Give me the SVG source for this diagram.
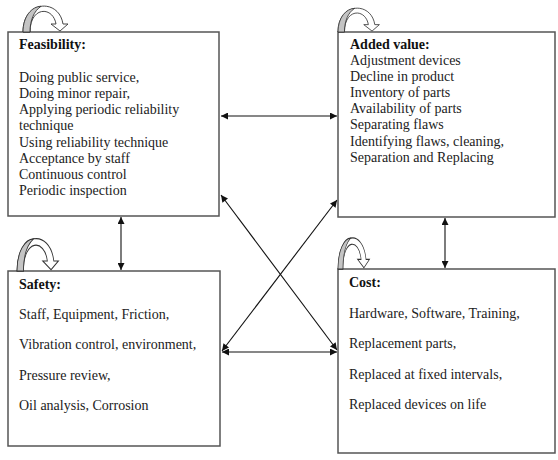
<svg xmlns="http://www.w3.org/2000/svg" width="558" height="460" viewBox="0 0 558 460">
<style>
.box{fill:#fff;stroke:#555;stroke-width:1.5}
.c{stroke:#111;stroke-width:1.1;fill:none;marker-start:url(#ah);marker-end:url(#ah)}
.curl{fill:#fff;stroke:#333;stroke-width:0.9}
.curlg{fill:#c4c4c4;stroke:#333;stroke-width:0.9}
</style>
<defs>
<marker id="ah" viewBox="0 0 10 10" refX="10" refY="5" markerWidth="9" markerHeight="7" markerUnits="userSpaceOnUse" orient="auto-start-reverse">
<path d="M0,0 L10,5 L0,10 Z" fill="#111"/>
</marker>
<g id="curlShape">
<path class="curl" d="M0,0 C0,-32 36,-34 40,-8 L45,-8 L37,-1 L28,-8 L33,-8 C30,-26 7,-26 7,0 Z"/>
<path class="curlg" d="M0,0 C0,-16 9,-25.5 18,-25.7 C11,-21 7,-12 7,0 Z"/>
</g>
</defs>
<g id="connectors">
<line class="c" x1="221" y1="116" x2="337" y2="116"/>
<line class="c" x1="121" y1="217" x2="121" y2="270"/>
<line class="c" x1="445" y1="218" x2="445" y2="268"/>
<line class="c" x1="222" y1="352" x2="337" y2="352"/>
<line class="c" x1="221" y1="195" x2="337" y2="350"/>
<line class="c" x1="337" y1="200" x2="222" y2="351"/>
</g>
<g id="feasibility">
<rect class="box" x="8" y="32" width="211" height="184"/>
<use href="#curlShape" transform="translate(23,32)"/>
<text font-family="Liberation Serif" font-size="14" font-weight="bold" fill="#111" x="19" y="49">Feasibility:</text>
<text font-family="Liberation Serif" font-size="14" fill="#222" x="19" y="82">Doing public service,</text>
<text font-family="Liberation Serif" font-size="14" fill="#222" x="19" y="98">Doing minor repair,</text>
<text font-family="Liberation Serif" font-size="14" fill="#222" x="19" y="114">Applying periodic reliability</text>
<text font-family="Liberation Serif" font-size="14" fill="#222" x="19" y="130">technique</text>
<text font-family="Liberation Serif" font-size="14" fill="#222" x="19" y="147">Using reliability technique</text>
<text font-family="Liberation Serif" font-size="14" fill="#222" x="19" y="163">Acceptance by staff</text>
<text font-family="Liberation Serif" font-size="14" fill="#222" x="19" y="179">Continuous control</text>
<text font-family="Liberation Serif" font-size="14" fill="#222" x="19" y="195">Periodic inspection</text>
</g>
<g id="added-value">
<rect class="box" x="338" y="32" width="217" height="185"/>
<use href="#curlShape" transform="translate(338,32) scale(0.92)"/>
<text font-family="Liberation Serif" font-size="14" font-weight="bold" fill="#111" x="350" y="49">Added value:</text>
<text font-family="Liberation Serif" font-size="14" fill="#222" x="350" y="65">Adjustment devices</text>
<text font-family="Liberation Serif" font-size="14" fill="#222" x="350" y="81">Decline in product</text>
<text font-family="Liberation Serif" font-size="14" fill="#222" x="350" y="97">Inventory of parts</text>
<text font-family="Liberation Serif" font-size="14" fill="#222" x="350" y="113">Availability of parts</text>
<text font-family="Liberation Serif" font-size="14" fill="#222" x="350" y="129">Separating flaws</text>
<text font-family="Liberation Serif" font-size="14" fill="#222" x="350" y="146">Identifying flaws, cleaning,</text>
<text font-family="Liberation Serif" font-size="14" fill="#222" x="350" y="162">Separation and Replacing</text>
</g>
<g id="safety">
<rect class="box" x="8" y="271" width="212" height="175"/>
<use href="#curlShape" transform="translate(17,271) scale(0.92,1.25)"/>
<text font-family="Liberation Serif" font-size="14" font-weight="bold" fill="#111" x="19" y="289">Safety:</text>
<text font-family="Liberation Serif" font-size="14" fill="#222" x="19" y="319">Staff, Equipment, Friction,</text>
<text font-family="Liberation Serif" font-size="14" fill="#222" x="19" y="349">Vibration control, environment,</text>
<text font-family="Liberation Serif" font-size="14" fill="#222" x="19" y="380">Pressure review,</text>
<text font-family="Liberation Serif" font-size="14" fill="#222" x="19" y="410">Oil analysis, Corrosion</text>
</g>
<g id="cost">
<rect class="box" x="338" y="269" width="217" height="184"/>
<use href="#curlShape" transform="translate(338,269) scale(0.7,1.2)"/>
<text font-family="Liberation Serif" font-size="14" font-weight="bold" fill="#111" x="349" y="287">Cost:</text>
<text font-family="Liberation Serif" font-size="14" fill="#222" x="349" y="318">Hardware, Software, Training,</text>
<text font-family="Liberation Serif" font-size="14" fill="#222" x="349" y="348">Replacement parts,</text>
<text font-family="Liberation Serif" font-size="14" fill="#222" x="349" y="379">Replaced at fixed intervals,</text>
<text font-family="Liberation Serif" font-size="14" fill="#222" x="349" y="409">Replaced devices on life</text>
</g>
</svg>
